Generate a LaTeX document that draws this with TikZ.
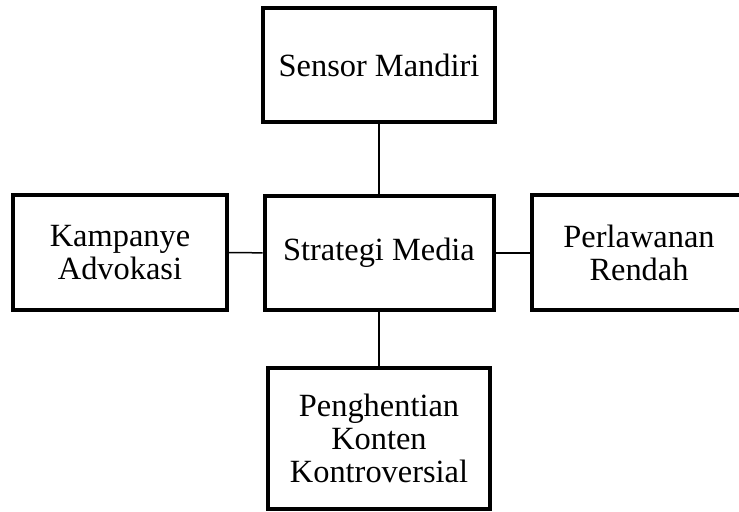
\documentclass[tikz,border=0pt]{standalone}
\usepackage{fontspec}
\setmainfont{Liberation Serif}

\tikzset{
	box/.style={draw, line width=2pt, align=center, inner sep=0pt, font=\fontsize{16.2}{16.6}\selectfont},
	link/.style={line width=0.75pt}
}

\begin{document}
\begin{tikzpicture}[x=0.5pt, y=-0.5pt]
	
	\useasboundingbox (0,0) rectangle (739,512);
	
	\node[box, minimum width=116pt, minimum height=57pt] (sensor) at (379,65) {Sensor Mandiri};
	\node[box, minimum width=114.5pt, minimum height=57pt] (strategi) at (379,253) {Strategi Media};
	\node[box, minimum width=107pt, minimum height=57.5pt] (kampanye) at (120,252.5) {Kampanye\\Advokasi};
	\node[box, minimum width=107pt, minimum height=57.5pt] (perlawanan) at (639,253) {Perlawanan\\Rendah};
	\node[box, minimum width=111pt, minimum height=70.5pt] (penghentian) at (379,438.5) {Penghentian\\Konten\\Kontroversial};
	
	\draw[link] (sensor) -- (strategi);
	\draw[link] (kampanye) -- (strategi);
	\draw[link] (strategi) -- (perlawanan);
	\draw[link] (strategi) -- (penghentian);
	
\end{tikzpicture}
\end{document}
